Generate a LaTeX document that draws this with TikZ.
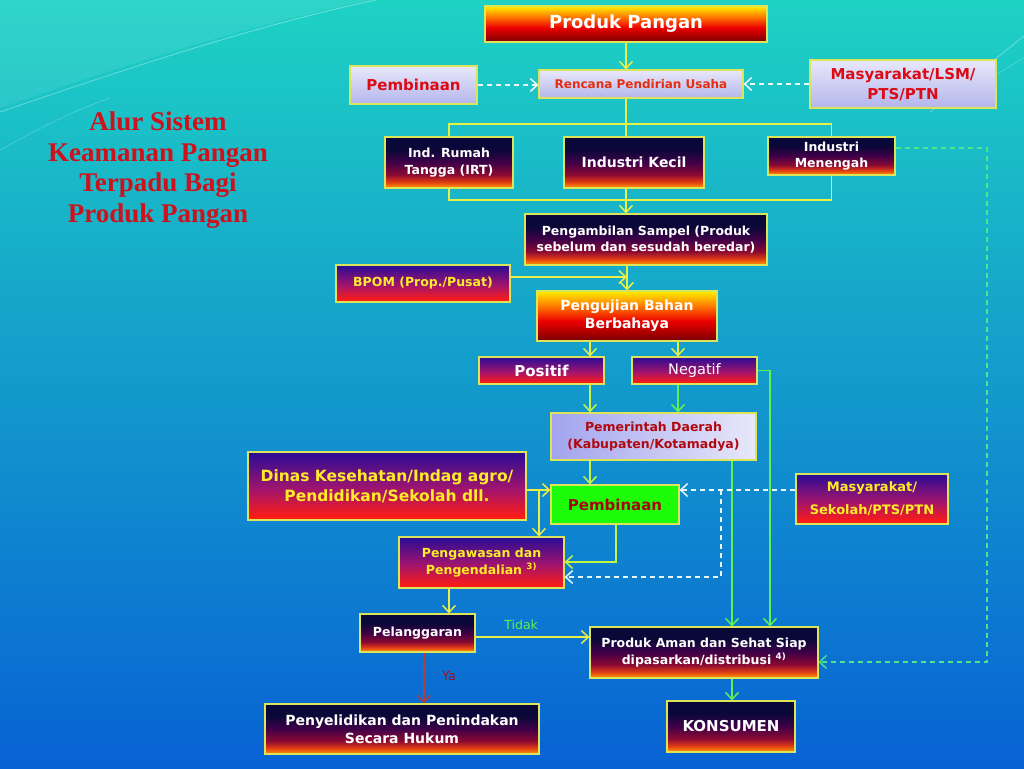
\documentclass[tikz,border=0pt]{standalone}
\usepackage{fontspec}
\setmainfont{DejaVu Sans}
\newfontfamily\titlefont{Liberation Serif}
\usetikzlibrary{arrows.meta,positioning}
\definecolor{bgtop}{RGB}{30,210,196}
\definecolor{bgmid}{RGB}{24,188,226}
\definecolor{bgbot}{RGB}{8,98,212}
\definecolor{boxline}{RGB}{220,228,90}
\definecolor{fireorg}{RGB}{255,160,0}
\definecolor{firered}{RGB}{225,60,20}
\definecolor{firecrim}{RGB}{140,10,50}
\definecolor{firepur}{RGB}{64,0,72}
\definecolor{firenavy}{RGB}{10,8,56}
\definecolor{rbred}{RGB}{255,28,20}
\definecolor{rbmag}{RGB}{160,20,110}
\definecolor{rbblue}{RGB}{40,12,150}
\definecolor{hotyel}{RGB}{255,240,0}
\definecolor{hotorg}{RGB}{255,120,0}
\definecolor{hotred}{RGB}{235,0,0}
\definecolor{hotdark}{RGB}{120,0,0}
\definecolor{lavtop}{RGB}{232,232,250}
\definecolor{lavbot}{RGB}{180,182,236}
\definecolor{txtyel}{RGB}{255,236,40}
\definecolor{txtred}{RGB}{220,10,20}
\definecolor{ylw}{RGB}{232,240,70}
\definecolor{lime}{RGB}{196,244,70}
\definecolor{grn}{RGB}{96,240,80}
\definecolor{gdsh}{RGB}{80,228,140}
\definecolor{brn}{RGB}{176,64,64}
\definecolor{titred}{RGB}{205,18,30}
\pgfdeclareverticalshading{nightfire}{100bp}{color(0bp)=(fireorg); color(25bp)=(fireorg); color(31bp)=(firered); color(38bp)=(firecrim); color(50bp)=(firepur); color(63bp)=(firenavy); color(100bp)=(firenavy)}
\pgfdeclareverticalshading{redblue}{100bp}{color(0bp)=(rbred); color(27bp)=(rbred); color(48bp)=(rbmag); color(75bp)=(rbblue); color(100bp)=(rbblue)}
\pgfdeclareverticalshading{hotfire}{100bp}{color(0bp)=(hotdark); color(25bp)=(hotdark); color(45bp)=(hotred); color(60bp)=(hotorg); color(75bp)=(hotyel); color(100bp)=(hotyel)}
\begin{document}
\begin{tikzpicture}[x=1pt,y=-1pt,
box/.style={draw=boxline,line width=1.2pt,align=center,inner sep=2pt},
dk/.style={box,shading=nightfire,text=white,font=\bfseries\fontsize{12.5}{16.5}\selectfont},
rb/.style={box,shading=redblue,text=txtyel,font=\bfseries\fontsize{12.5}{16.5}\selectfont},
hot/.style={box,shading=hotfire,text=white,font=\bfseries\fontsize{14}{18}\selectfont},
lv/.style={box,top color=lavtop,bottom color=lavbot,text=txtred,font=\bfseries\fontsize{15}{20}\selectfont},
tip/.style={-{Straight Barb[length=7pt,width=13pt]}},
yline/.style={ylw,line width=1.5pt},
yarr/.style={yline,tip},
larr/.style={lime,line width=1.5pt,tip},
garr/.style={grn,line width=1.5pt,tip},
warr/.style={white!92!cyan,line width=1.5pt,dash pattern=on 5pt off 4pt,tip},
gdash/.style={gdsh,line width=1.3pt,dash pattern=on 5pt off 4pt,tip},
rarr/.style={brn,line width=1.5pt,tip}]
\useasboundingbox (0,0) rectangle (1024,768);
\shade[top color=bgtop,middle color=bgmid,bottom color=bgbot] (0,0) rectangle (1024,768);
\fill[white,opacity=0.08] (0,0) -- (0,108) .. controls (140,60) and (260,22) .. (372,0) -- cycle;
\draw[white,opacity=0.35,line width=0.8pt] (0,112) .. controls (140,64) and (262,24) .. (376,0);
\draw[white,opacity=0.25,line width=0.6pt] (0,150) .. controls (40,128) and (70,112) .. (110,98);
\draw[white,opacity=0.35,line width=0.8pt] (930,112) .. controls (968,82) and (996,58) .. (1024,36);
\draw[white,opacity=0.25,line width=0.6pt] (952,104) .. controls (980,86) and (1002,70) .. (1024,58);
\node[align=center,text=titred,font=\titlefont\bfseries\fontsize{27}{30.5}\selectfont] (title) at (158,170) {Alur Sistem\\Keamanan Pangan\\Terpadu Bagi\\Produk Pangan};
\node[hot,minimum width=282,minimum height=36,font=\bfseries\fontsize{18}{20}\selectfont] (pangan) at (626,24) {Produk Pangan};
\node[lv,minimum width=127,minimum height=38] (binatop) at (413.5,85) {Pembinaan};
\node[lv,minimum width=204,minimum height=28,text=txtred!70!orange,font=\bfseries\fontsize{12}{14}\selectfont] (rencana) at (641,84) {Rencana Pendirian Usaha};
\node[lv,minimum width=186,minimum height=48] (masylsm) at (903,84) {Masyarakat/LSM/\\PTS/PTN};
\node[dk,minimum width=128,minimum height=51] (irt) at (449,162.5) {Ind. Rumah\\Tangga (IRT)};
\node[dk,minimum width=140,minimum height=51,font=\bfseries\fontsize{14}{16}\selectfont] (kecil) at (634,162.5) {Industri Kecil};
\node[dk,minimum width=127,minimum height=38] (menengah) at (831.5,156) {Industri\\Menengah};
\node[dk,minimum width=242,minimum height=51] (sampel) at (646,239.5) {Pengambilan Sampel (Produk\\sebelum dan sesudah beredar)};
\node[rb,minimum width=174,minimum height=37] (bpom) at (423,283.5) {BPOM (Prop./Pusat)};
\node[hot,minimum width=180,minimum height=50] (uji) at (627,316) {Pengujian Bahan\\Berbahaya};
\node[rb,minimum width=125,minimum height=27,text=white,font=\bfseries\fontsize{15}{17}\selectfont] (positif) at (541.5,370.5) {Positif};
\node[rb,minimum width=125,minimum height=27,text=white,font=\fontsize{14.5}{17}\selectfont] (negatif) at (694.5,370.5) {Negatif};
\node[lv,left color=lavbot!90!blue,right color=lavtop,minimum width=205,minimum height=47,text=txtred!80!black,font=\bfseries\fontsize{12.5}{17}\selectfont] (pemda) at (653.5,436.5) {Pemerintah Daerah\\(Kabupaten/Kotamadya)};
\node[rb,minimum width=278,minimum height=68,font=\bfseries\fontsize{15.5}{20}\selectfont] (dinas) at (387,486) {Dinas Kesehatan/Indag agro/\\Pendidikan/Sekolah dll.};
\node[box,fill=green!85!lime,minimum width=128,minimum height=39,text=txtred!75!black,font=\bfseries\fontsize{15}{18}\selectfont] (binahijau) at (615,504.5) {Pembinaan};
\node[rb,minimum width=152,minimum height=50,font=\bfseries\fontsize{13}{23}\selectfont] (masysekolah) at (872,499) {Masyarakat/\\Sekolah/PTS/PTN};
\node[rb,minimum width=165,minimum height=51] (awas) at (481.5,562.5) {Pengawasan dan\\Pengendalian \textsuperscript{3)}};
\node[dk,minimum width=115,minimum height=38] (langgar) at (417.5,633) {Pelanggaran};
\node[dk,minimum width=228,minimum height=51] (aman) at (704,652.5) {Produk Aman dan Sehat Siap\\dipasarkan/distribusi \textsuperscript{4)}};
\node[dk,minimum width=274,minimum height=50,font=\bfseries\fontsize{14}{18}\selectfont] (sidik) at (402,729) {Penyelidikan dan Penindakan\\Secara Hukum};
\node[dk,minimum width=128,minimum height=51,font=\bfseries\fontsize{15}{18}\selectfont] (konsumen) at (731,726.5) {KONSUMEN};
\coordinate (bustop) at (626,124);\coordinate (busbot) at (626,200);
\coordinate (colA) at (590,0);\coordinate (colB) at (732,0);\coordinate (colC) at (770,0);\coordinate (colN) at (678,0);
\coordinate (colE) at (539,0);\coordinate (colF) at (616,0);\coordinate (colG) at (721,0);
\coordinate (colH) at (449,0);\coordinate (colI) at (424,0);\coordinate (colJ) at (987,0);
\coordinate (rowB) at (0,277);\coordinate (rowD) at (0,490);\coordinate (rowE) at (0,562);
\coordinate (rowF) at (0,577);\coordinate (rowG) at (0,637);\coordinate (rowH) at (0,148);\coordinate (rowI) at (0,662);
\draw[yarr] (pangan.south) -- (pangan.south |- rencana.north);
\draw[warr] (binatop.east) -- (binatop.east -| rencana.west);
\draw[warr] (masylsm.west) -- (masylsm.west -| rencana.east);
\draw[yline] (rencana.south -| bustop) -- (bustop);
\draw[yline] (irt.north) |- (bustop) -| (menengah.north);\draw[yline] (bustop) -- (bustop |- kecil.north);
\draw[yline] (irt.south) |- (busbot) -| (menengah.south);\draw[yline] (kecil.south -| busbot) -- (busbot);
\draw[yarr] (busbot) -- (busbot |- sampel.north);
\draw[yarr] (sampel.south -| uji.north) -- (uji.north);
\draw[yarr] (bpom.east |- rowB) -- (uji.north |- rowB);
\draw[yarr] (uji.south -| colA) -- (colA |- positif.north);
\draw[yarr] (uji.south -| colN) -- (colN |- negatif.north);
\draw[larr] (positif.south -| colA) -- (colA |- pemda.north);
\draw[garr] (negatif.south -| colN) -- (colN |- pemda.north);
\draw[garr] (negatif.east) -| (colC |- aman.north);
\draw[garr] (pemda.south -| colB) -- (colB |- aman.north);
\draw[larr] (pemda.south -| colA) -- (colA |- binahijau.north);
\draw[yarr] (dinas.east |- rowD) -- (binahijau.west |- rowD);
\draw[yarr] (colE |- rowD) -- (colE |- awas.north);
\draw[larr] (binahijau.south -| colF) |- (awas.east |- rowE);
\draw[warr] (masysekolah.west |- rowD) -- (binahijau.east |- rowD);
\draw[warr] (colG |- rowD) |- (awas.east |- rowF);
\draw[yarr] (awas.south -| colH) -- (colH |- langgar.north);
\draw[yarr] (langgar.east |- rowG) -- node[above=3pt,pos=0.4,text=grn,font=\fontsize{12.5}{14}\selectfont] (tidak) {Tidak} (aman.west |- rowG);
\draw[rarr] (langgar.south -| colI) -- node[right=14pt,pos=0.47,text=txtred!80!black,font=\fontsize{12.5}{14}\selectfont] (ya) {Ya} (colI |- sidik.north);
\draw[garr] (aman.south -| colB) -- (colB |- konsumen.north);
\draw[gdash] (menengah.east |- rowH) -| (colJ |- rowI) -- (aman.east |- rowI);
\end{tikzpicture}
\end{document}
